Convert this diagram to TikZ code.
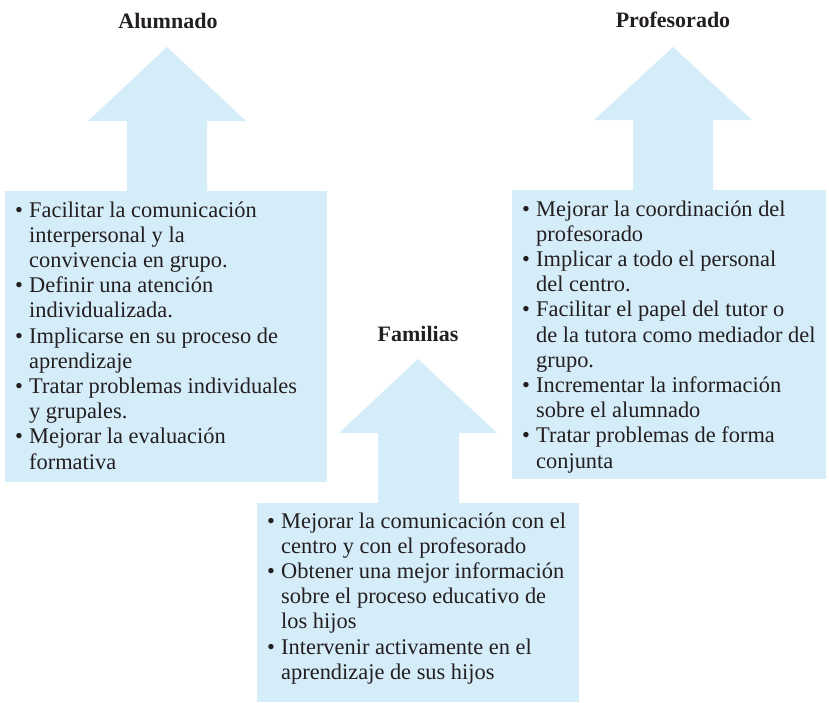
\documentclass[tikz,border=0pt]{standalone}
\usepackage{fontspec}
\setmainfont{Liberation Serif}
\usepackage{array}
\definecolor{panel}{RGB}{213,236,249}
\definecolor{ink}{RGB}{35,31,32}
\begin{document}
\begin{tikzpicture}[x=1pt,y=-1pt,
  panelbox/.style={fill=panel,draw=none,inner sep=0pt,anchor=north west},
  arrowshape/.style={fill=panel,draw=none},
  title/.style={font=\fontsize{22}{25.2}\selectfont\bfseries,text=ink,anchor=base,inner sep=0pt},
  listtext/.style={font=\fontsize{22.4}{25.2}\selectfont,text=ink,anchor=base west,inner sep=0pt}]
\useasboundingbox (0,0) rectangle (829,702);
% panels
\node[panelbox,minimum width=322pt,minimum height=291pt] (boxA) at (5,191) {};
\node[panelbox,minimum width=314pt,minimum height=289pt] (boxP) at (512,190) {};
\node[panelbox,minimum width=322pt,minimum height=199pt] (boxF) at (257,503) {};
% arrows
\fill[arrowshape] (127,192) -- (127,121) -- (88,121) -- (167,47) -- (246,121) -- (207,121) -- (207,192) -- cycle;
\fill[arrowshape] (633,191) -- (633,120) -- (594,120) -- (673,47) -- (752,120) -- (713,120) -- (713,191) -- cycle;
\fill[arrowshape] (378,504) -- (378,433) -- (339,433) -- (418,359) -- (497,433) -- (459,433) -- (459,504) -- cycle;
% titles
\node[title] (tA) at (168,28) {Alumnado};
\node[title] (tP) at (673,27) {Profesorado};
\node[title] (tF) at (418,341) {Familias};
% lists
\node[listtext] (lA) at (15,217) {\begin{tabular}[t]{@{}p{14pt}@{}l@{}}
\textbullet & Facilitar la comunicación\\
 & interpersonal y la\\
 & convivencia en grupo.\\
\textbullet & Definir una atención\\
 & individualizada.\\
\textbullet & Implicarse en su proceso de\\
 & aprendizaje\\
\textbullet & Tratar problemas individuales\\
 & y grupales.\\
\textbullet & Mejorar la evaluación\\
 & formativa
\end{tabular}};
\node[listtext] (lP) at (522,216) {\begin{tabular}[t]{@{}p{14pt}@{}l@{}}
\textbullet & Mejorar la coordinación del\\
 & profesorado\\
\textbullet & Implicar a todo el personal\\
 & del centro.\\
\textbullet & Facilitar el papel del tutor o\\
 & de la tutora como mediador del\\
 & grupo.\\
\textbullet & Incrementar la información\\
 & sobre el alumnado\\
\textbullet & Tratar problemas de forma\\
 & conjunta
\end{tabular}};
\node[listtext] (lF) at (267,528) {\begin{tabular}[t]{@{}p{14pt}@{}l@{}}
\textbullet & Mejorar la comunicación con el\\
 & centro y con el profesorado\\
\textbullet & Obtener una mejor información\\
 & sobre el proceso educativo de\\
 & los hijos\\
\textbullet & Intervenir activamente en el\\
 & aprendizaje de sus hijos
\end{tabular}};
\end{tikzpicture}
\end{document}
